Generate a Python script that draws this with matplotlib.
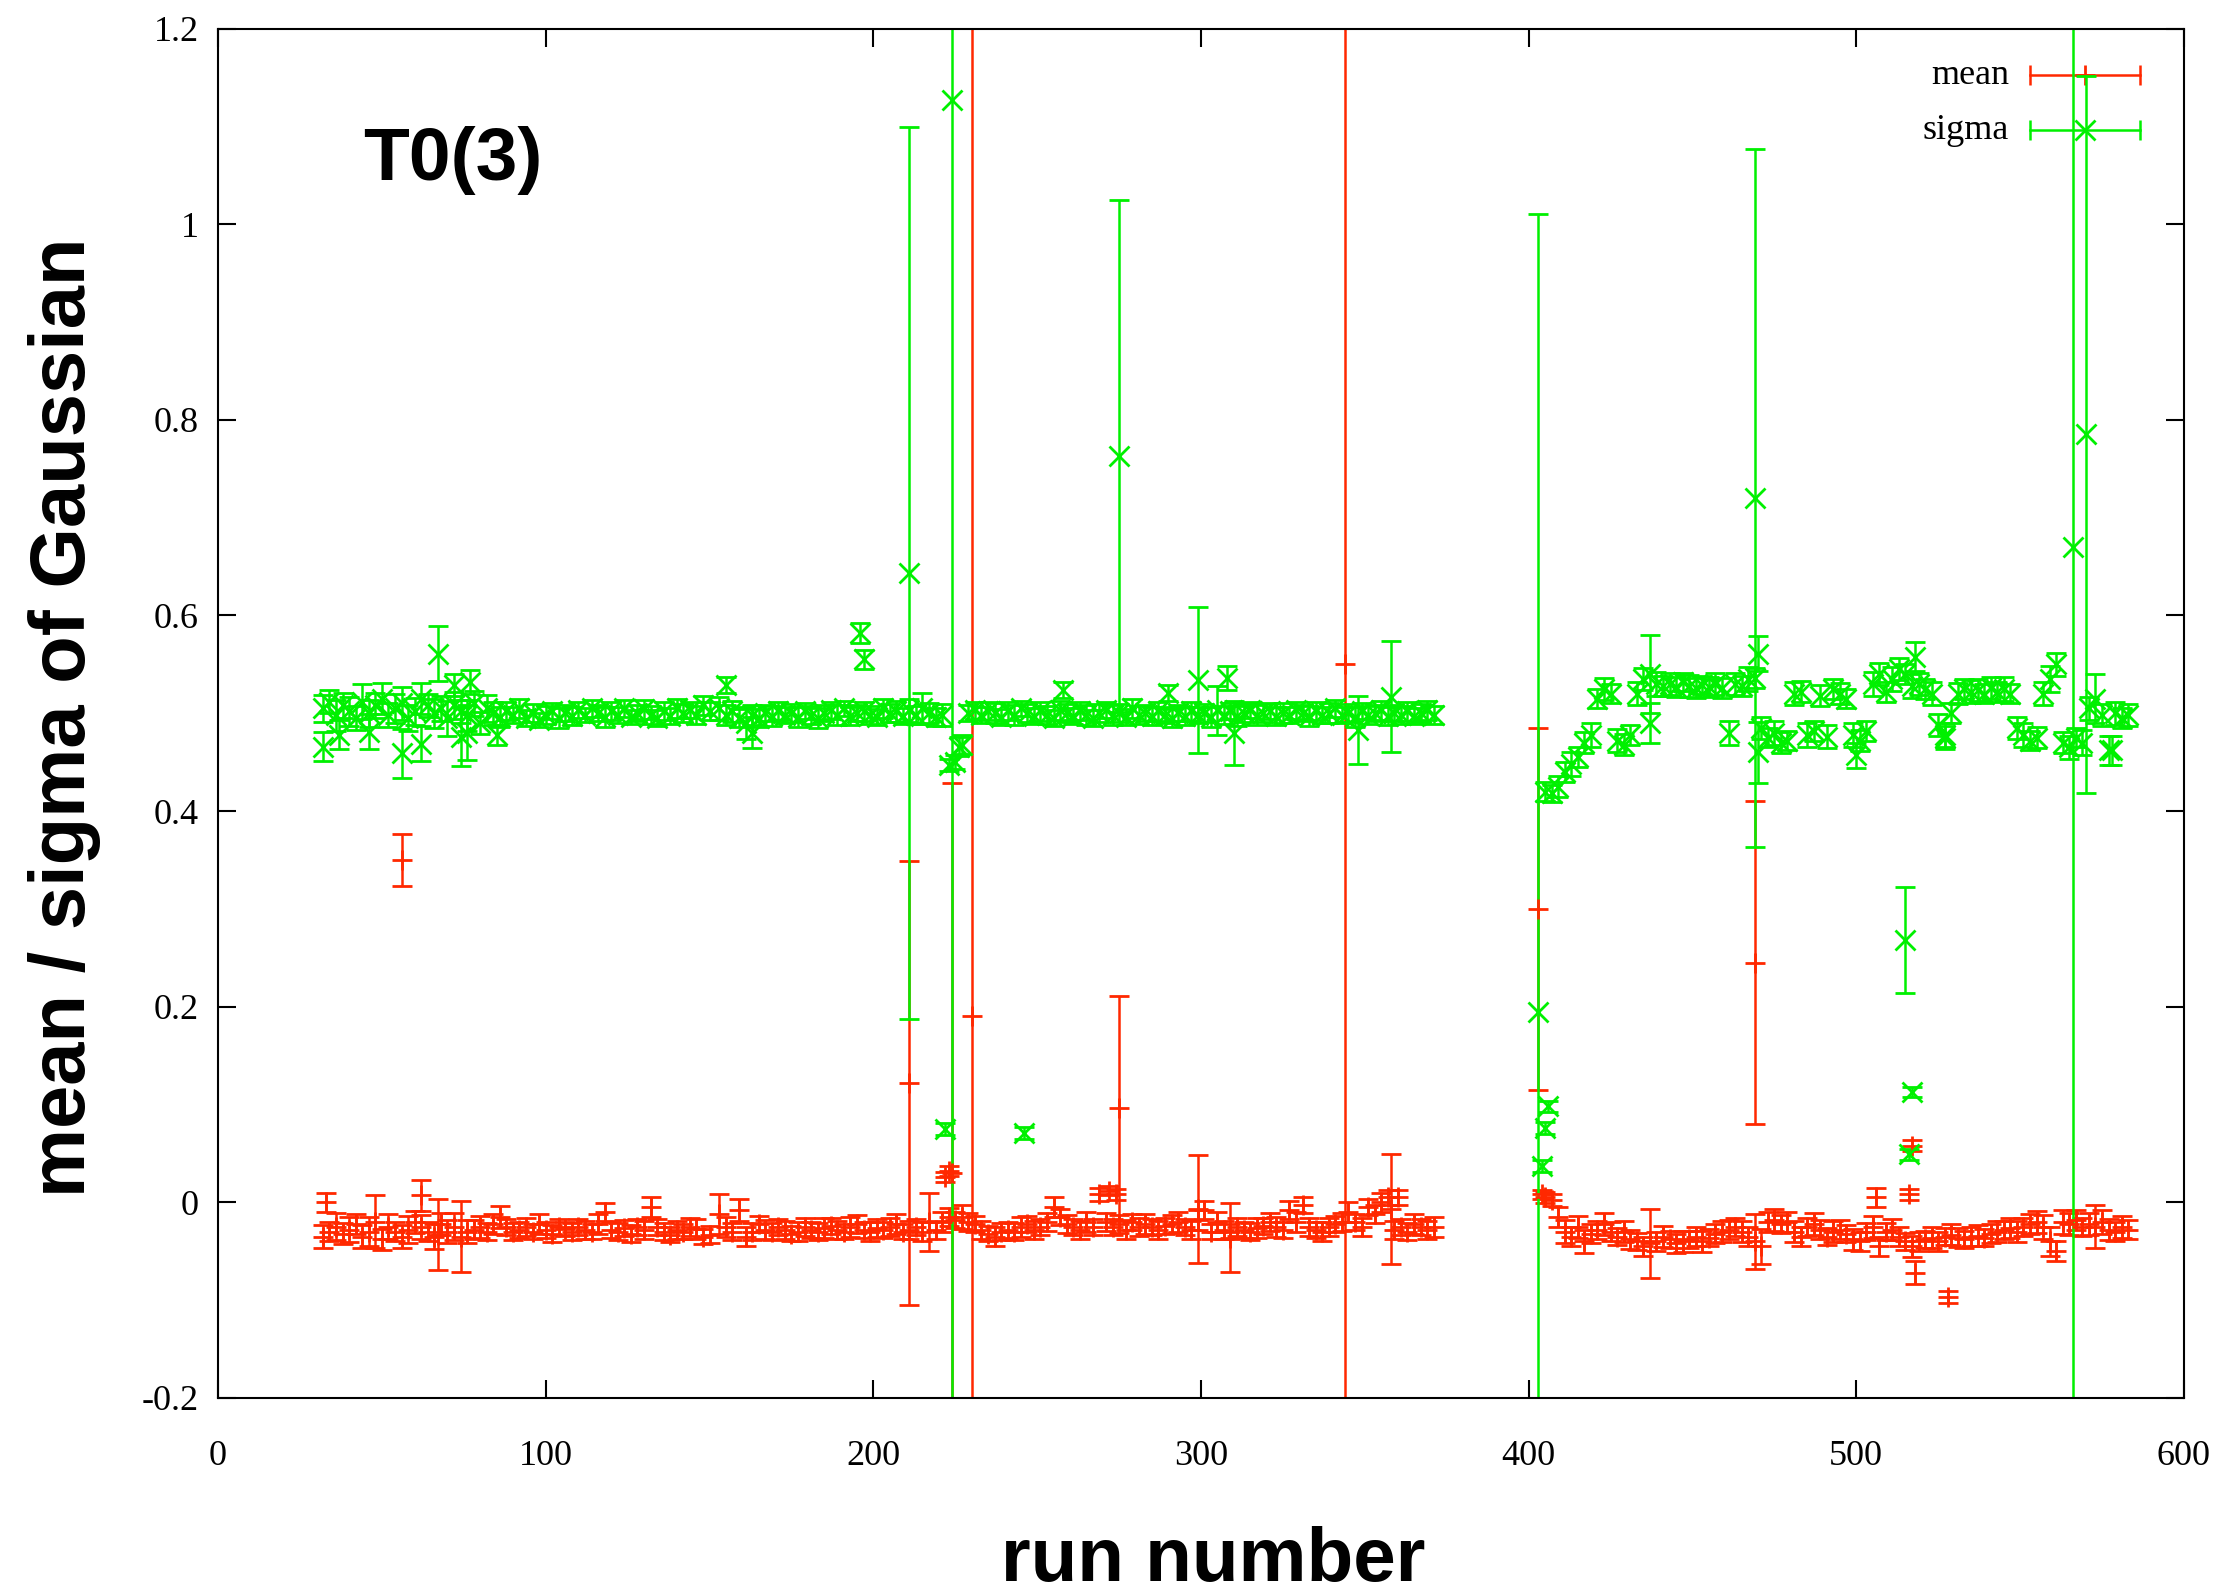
import numpy as np
import matplotlib
matplotlib.use('Agg')
import matplotlib.pyplot as plt
from matplotlib.ticker import FuncFormatter, MultipleLocator

# run numbers, first block
runs_a = [32, 34, 36, 38, 40, 42, 44, 46, 48, 50,
          52, 54, 56, 58, 60, 62, 64, 66, 68, 70,
          72, 74, 76, 78, 80, 82, 84, 86, 88, 90,
          92, 94, 96, 98, 100, 102, 104, 106, 108, 110,
          112, 114, 116, 118, 120, 122, 124, 126, 128, 130,
          132, 134, 136, 138, 140, 142, 144, 146, 148, 150]
sigma_a = [0.505, 0.512, 0.498, 0.508, 0.502, 0.495, 0.512, 0.500, 0.508, 0.515,
           0.498, 0.505, 0.510, 0.495, 0.502, 0.515, 0.508, 0.500, 0.505, 0.495,
           0.508, 0.502, 0.498, 0.510, 0.490, 0.505, 0.500, 0.496, 0.502, 0.498,
           0.505, 0.495, 0.500, 0.493, 0.498, 0.502, 0.495, 0.500, 0.497, 0.503,
           0.498, 0.505, 0.500, 0.496, 0.502, 0.498, 0.505, 0.496, 0.500, 0.504,
           0.498, 0.495, 0.502, 0.497, 0.505, 0.500, 0.503, 0.498, 0.508, 0.502]
sigma_err_a = [0.014, 0.012, 0.016, 0.013, 0.015, 0.012, 0.018, 0.014, 0.013, 0.016,
               0.012, 0.015, 0.017, 0.013, 0.014, 0.016, 0.012, 0.015, 0.013, 0.018,
               0.014, 0.012, 0.016, 0.013, 0.011, 0.014, 0.012, 0.010, 0.009, 0.008,
               0.010, 0.008, 0.009, 0.007, 0.009, 0.008, 0.010, 0.008, 0.009, 0.008,
               0.007, 0.009, 0.008, 0.010, 0.009, 0.008, 0.009, 0.007, 0.008, 0.010,
               0.009, 0.008, 0.009, 0.008, 0.010, 0.009, 0.008, 0.009, 0.010, 0.009]
mean_a = [-0.035, -0.030, -0.025, -0.032, -0.028, -0.022, -0.035, -0.030, -0.020, -0.038,
          -0.025, -0.030, -0.035, -0.028, -0.020, -0.025, -0.030, -0.035, -0.022, -0.030,
          -0.025, -0.035, -0.030, -0.028, -0.025, -0.030, -0.022, -0.015, -0.025, -0.030,
          -0.028, -0.025, -0.030, -0.022, -0.028, -0.032, -0.025, -0.027, -0.030, -0.025,
          -0.028, -0.030, -0.022, -0.010, -0.028, -0.030, -0.026, -0.032, -0.025, -0.028,
          -0.005, -0.025, -0.030, -0.033, -0.028, -0.030, -0.025, -0.027, -0.035, -0.033]
mean_err_a = [0.012, 0.010, 0.014, 0.011, 0.013, 0.010, 0.012, 0.015, 0.027, 0.011,
              0.013, 0.010, 0.012, 0.014, 0.011, 0.012, 0.010, 0.013, 0.011, 0.012,
              0.014, 0.036, 0.012, 0.010, 0.011, 0.009, 0.010, 0.011, 0.008, 0.009,
              0.008, 0.009, 0.008, 0.010, 0.008, 0.009, 0.008, 0.007, 0.009, 0.008,
              0.009, 0.008, 0.010, 0.009, 0.008, 0.009, 0.008, 0.009, 0.008, 0.009,
              0.010, 0.008, 0.009, 0.008, 0.009, 0.008, 0.009, 0.010, 0.008, 0.009]

# second block
runs_b = [153, 155, 157, 159, 161, 163, 165, 167, 169, 171,
          173, 175, 177, 179, 181, 183, 185, 187, 189, 191,
          193, 195, 197, 199, 201, 203, 205, 207, 209, 211,
          213, 215, 217, 219, 221, 223, 225, 227, 229, 231,
          233, 235, 237, 239, 241, 243, 245, 247, 249, 251,
          253, 255, 257, 259, 261, 263, 265, 267, 269, 271,
          273, 275, 277, 279, 281, 283, 285, 287, 289, 291,
          293, 295, 297, 299, 301, 303, 305, 307, 309, 311,
          313, 315, 317, 319, 321, 323, 325, 327, 329, 331,
          333, 335, 337, 339, 341, 343, 345, 347, 349, 351,
          353, 355, 357, 359, 361, 363, 365, 367, 369, 371]
sigma_b = [0.505, 0.498, 0.502, 0.495, 0.490, 0.498, 0.495, 0.500, 0.497, 0.502,
           0.498, 0.500, 0.496, 0.502, 0.498, 0.495, 0.500, 0.503, 0.498, 0.505,
           0.497, 0.500, 0.502, 0.498, 0.496, 0.505, 0.500, 0.502, 0.497, 0.503,
           0.498, 0.505, 0.500, 0.496, 0.498, 0.447, 0.450, 0.468, 0.500, 0.503,
           0.498, 0.502, 0.500, 0.496, 0.502, 0.498, 0.505, 0.500, 0.497, 0.502,
           0.498, 0.495, 0.503, 0.500, 0.497, 0.502, 0.498, 0.495, 0.500, 0.503,
           0.498, 0.500, 0.496, 0.505, 0.498, 0.500, 0.497, 0.502, 0.498, 0.495,
           0.500, 0.497, 0.502, 0.498, 0.500, 0.496, 0.503, 0.498, 0.502, 0.497,
           0.500, 0.503, 0.498, 0.500, 0.502, 0.497, 0.500, 0.498, 0.503, 0.500,
           0.497, 0.502, 0.498, 0.500, 0.505, 0.498, 0.500, 0.496, 0.502, 0.498,
           0.500, 0.503, 0.497, 0.500, 0.498, 0.502, 0.497, 0.500, 0.503, 0.498]
sigma_err_b = [0.012, 0.010, 0.011, 0.009, 0.016, 0.010, 0.009, 0.008, 0.010, 0.009,
               0.008, 0.009, 0.010, 0.008, 0.009, 0.010, 0.008, 0.009, 0.010, 0.008,
               0.009, 0.008, 0.010, 0.009, 0.008, 0.010, 0.009, 0.011, 0.008, 0.012,
               0.009, 0.016, 0.010, 0.009, 0.011, 0.006, 0.007, 0.010, 0.008, 0.009,
               0.008, 0.009, 0.010, 0.008, 0.009, 0.010, 0.008, 0.009, 0.008, 0.010,
               0.009, 0.008, 0.010, 0.009, 0.008, 0.009, 0.010, 0.008, 0.009, 0.008,
               0.010, 0.009, 0.008, 0.010, 0.009, 0.008, 0.009, 0.010, 0.008, 0.009,
               0.008, 0.009, 0.010, 0.008, 0.009, 0.010, 0.025, 0.009, 0.008, 0.010,
               0.009, 0.008, 0.010, 0.009, 0.008, 0.009, 0.010, 0.008, 0.009, 0.008,
               0.010, 0.009, 0.008, 0.010, 0.009, 0.008, 0.009, 0.010, 0.008, 0.009,
               0.008, 0.010, 0.009, 0.008, 0.009, 0.010, 0.008, 0.009, 0.010, 0.009]
mean_b = [-0.012, -0.025, -0.030, -0.008, -0.035, -0.030, -0.022, -0.028, -0.030, -0.025,
          -0.028, -0.032, -0.030, -0.025, -0.028, -0.030, -0.026, -0.024, -0.028, -0.030,
          -0.025, -0.022, -0.028, -0.030, -0.026, -0.028, -0.025, -0.022, -0.030, -0.028,
          -0.025, -0.030, -0.020, -0.028, -0.020, -0.015, -0.018, -0.015, -0.020, -0.022,
          -0.028, -0.032, -0.035, -0.030, -0.028, -0.030, -0.025, -0.022, -0.028, -0.025,
          -0.020, -0.005, -0.015, -0.022, -0.025, -0.028, -0.020, -0.025, 0.008, -0.020,
          -0.025, -0.022, -0.028, -0.020, -0.025, -0.022, -0.025, -0.028, -0.024, -0.022,
          -0.020, -0.025, -0.028, -0.018, -0.008, -0.030, -0.020, -0.028, -0.030, -0.025,
          -0.028, -0.030, -0.026, -0.024, -0.020, -0.025, -0.028, -0.008, -0.020, -0.003,
          -0.025, -0.028, -0.030, -0.025, -0.022, -0.020, -0.010, -0.020, -0.025, -0.005,
          -0.012, 0.000, 0.005, -0.028, -0.025, -0.030, -0.022, -0.025, -0.028, -0.025]
mean_err_b = [0.020, 0.010, 0.009, 0.011, 0.010, 0.009, 0.008, 0.010, 0.009, 0.008,
              0.009, 0.008, 0.010, 0.009, 0.008, 0.009, 0.010, 0.008, 0.009, 0.008,
              0.010, 0.009, 0.008, 0.010, 0.009, 0.008, 0.009, 0.010, 0.008, 0.009,
              0.008, 0.010, 0.030, 0.009, 0.010, 0.009, 0.008, 0.012, 0.009, 0.008,
              0.009, 0.008, 0.010, 0.009, 0.008, 0.009, 0.010, 0.008, 0.009, 0.008,
              0.009, 0.010, 0.008, 0.009, 0.008, 0.009, 0.010, 0.008, 0.007, 0.009,
              0.008, 0.009, 0.010, 0.008, 0.009, 0.010, 0.008, 0.009, 0.008, 0.009,
              0.010, 0.008, 0.009, 0.010, 0.009, 0.008, 0.010, 0.009, 0.008, 0.009,
              0.008, 0.009, 0.010, 0.008, 0.009, 0.010, 0.008, 0.009, 0.010, 0.008,
              0.009, 0.008, 0.010, 0.009, 0.008, 0.009, 0.010, 0.008, 0.009, 0.008,
              0.009, 0.010, 0.008, 0.009, 0.008, 0.009, 0.010, 0.008, 0.009, 0.010]

# third block
runs_c = [405, 407, 409, 411, 413, 415, 417, 419, 421, 423,
          425, 427, 429, 431, 433, 435, 437, 439, 441, 443,
          445, 447, 449, 451, 453, 455, 457, 459, 461, 463,
          465, 467, 469, 471, 473, 475, 477, 479, 481, 483,
          485, 487, 489, 491, 493, 495, 497, 499, 501, 503,
          505, 507, 509, 511, 513, 515, 517, 519, 521, 523,
          525, 527, 529, 531, 533, 535, 537, 539, 541, 543,
          545, 547, 549, 551, 553, 555, 557, 559, 561, 563,
          565, 567, 569, 571, 573, 575, 577, 579, 581, 583]
sigma_c = [0.420, 0.418, 0.425, 0.440, 0.448, 0.455, 0.470, 0.478, 0.515, 0.525,
           0.520, 0.472, 0.468, 0.478, 0.520, 0.535, 0.540, 0.530, 0.528, 0.530,
           0.527, 0.532, 0.528, 0.526, 0.529, 0.527, 0.530, 0.526, 0.480, 0.530,
           0.528, 0.535, 0.536, 0.485, 0.475, 0.480, 0.470, 0.472, 0.520, 0.522,
           0.478, 0.482, 0.518, 0.476, 0.525, 0.520, 0.515, 0.478, 0.472, 0.482,
           0.530, 0.540, 0.522, 0.535, 0.545, 0.540, 0.528, 0.530, 0.525, 0.520,
           0.488, 0.478, 0.500, 0.520, 0.525, 0.522, 0.524, 0.520, 0.526, 0.522,
           0.525, 0.520, 0.485, 0.478, 0.472, 0.475, 0.520, 0.535, 0.550, 0.470,
           0.465, 0.475, 0.470, 0.505, 0.515, 0.498, 0.462, 0.500, 0.495, 0.498]
sigma_err_c = [0.010, 0.009, 0.011, 0.010, 0.012, 0.010, 0.011, 0.012, 0.010, 0.011,
               0.010, 0.012, 0.011, 0.010, 0.012, 0.011, 0.040, 0.012, 0.010, 0.011,
               0.010, 0.009, 0.011, 0.010, 0.009, 0.010, 0.011, 0.010, 0.012, 0.011,
               0.010, 0.012, 0.010, 0.011, 0.010, 0.012, 0.011, 0.010, 0.012, 0.011,
               0.012, 0.010, 0.011, 0.012, 0.010, 0.011, 0.010, 0.012, 0.011, 0.010,
               0.012, 0.011, 0.010, 0.012, 0.011, 0.010, 0.012, 0.011, 0.010, 0.012,
               0.011, 0.012, 0.010, 0.011, 0.010, 0.012, 0.011, 0.010, 0.011, 0.010,
               0.012, 0.010, 0.011, 0.012, 0.010, 0.011, 0.012, 0.013, 0.012, 0.011,
               0.012, 0.010, 0.013, 0.012, 0.025, 0.011, 0.015, 0.012, 0.010, 0.011]
mean_c = [0.005, 0.002, -0.015, -0.030, -0.035, -0.025, -0.040, -0.032, -0.028, -0.022,
          -0.030, -0.035, -0.030, -0.038, -0.040, -0.045, -0.042, -0.040, -0.035, -0.038,
          -0.042, -0.040, -0.038, -0.035, -0.040, -0.036, -0.032, -0.030, -0.028, -0.025,
          -0.030, -0.035, -0.040, -0.045, -0.020, -0.018, -0.022, -0.020, -0.030, -0.035,
          -0.025, -0.022, -0.028, -0.035, -0.030, -0.028, -0.032, -0.038, -0.040, -0.030,
          -0.025, -0.045, -0.030, -0.028, -0.035, -0.040, -0.045, -0.040, -0.038, -0.036,
          -0.040, -0.035, -0.033, -0.036, -0.038, -0.035, -0.034, -0.036, -0.032, -0.030,
          -0.028, -0.026, -0.030, -0.025, -0.022, -0.020, -0.025, -0.040, -0.050, -0.020,
          -0.022, -0.018, -0.025, -0.022, -0.025, -0.020, -0.028, -0.030, -0.025, -0.028]
mean_err_c = [0.006, 0.006, 0.010, 0.012, 0.010, 0.011, 0.012, 0.010, 0.009, 0.011,
              0.010, 0.009, 0.011, 0.010, 0.009, 0.010, 0.035, 0.010, 0.011, 0.009,
              0.010, 0.011, 0.009, 0.010, 0.011, 0.009, 0.010, 0.011, 0.010, 0.009,
              0.011, 0.010, 0.028, 0.018, 0.010, 0.011, 0.009, 0.010, 0.011, 0.010,
              0.009, 0.011, 0.010, 0.009, 0.011, 0.010, 0.009, 0.011, 0.010, 0.009,
              0.011, 0.010, 0.009, 0.011, 0.010, 0.009, 0.011, 0.010, 0.009, 0.011,
              0.010, 0.009, 0.011, 0.010, 0.009, 0.010, 0.011, 0.009, 0.010, 0.011,
              0.009, 0.010, 0.011, 0.009, 0.010, 0.011, 0.012, 0.015, 0.010, 0.012,
              0.011, 0.010, 0.009, 0.011, 0.022, 0.012, 0.011, 0.010, 0.011, 0.010]

# runs where the fit went off the band
sigma_out_runs = [32, 37, 46, 56, 62, 67, 72, 77, 74, 76,
                  85, 155, 163, 196, 197, 211, 222, 224, 226, 246,
                  258, 275, 290, 299, 308, 310, 348, 358, 403, 404,
                  405, 406, 437, 470, 470, 469, 500, 515, 516, 517,
                  518, 566, 570, 527, 578]
sigma_out = [0.466, 0.478, 0.481, 0.459, 0.469, 0.561, 0.529, 0.532, 0.476, 0.480,
             0.478, 0.529, 0.480, 0.582, 0.555, 0.643, 0.075, 1.127, 0.466, 0.071,
             0.524, 0.763, 0.521, 0.534, 0.536, 0.480, 0.483, 0.517, 0.195, 0.037,
             0.076, 0.098, 0.490, 0.561, 0.460, 0.720, 0.457, 0.268, 0.049, 0.113,
             0.558, 0.670, 0.785, 0.475, 0.462]
sigma_out_err = [0.015, 0.015, 0.018, 0.025, 0.018, 0.028, 0.011, 0.012, 0.030, 0.028,
                 0.010, 0.008, 0.016, 0.010, 0.010, 0.456, 0.006, 1.500, 0.010, 0.006,
                 0.008, 0.262, 0.008, 0.075, 0.012, 0.033, 0.035, 0.057, 0.815, 0.006,
                 0.006, 0.006, 0.020, 0.018, 0.031, 0.357, 0.013, 0.054, 0.006, 0.005,
                 0.015, 1.000, 0.367, 0.012, 0.015]

mean_out_runs = [33, 56, 62, 67, 211, 222, 223, 224, 230, 272,
                 274, 275, 299, 309, 344, 358, 360, 403, 404, 469,
                 506, 516, 517, 518, 528]
mean_out = [0.000, 0.350, 0.007, -0.033, 0.122, 0.026, 0.032, 0.030, 0.190, 0.012,
            0.008, 0.096, -0.007, -0.036, 0.550, -0.007, 0.005, 0.300, 0.008, 0.245,
            0.005, 0.008, 0.058, -0.072, -0.097]
mean_out_err = [0.010, 0.027, 0.016, 0.036, 0.227, 0.005, 0.005, 0.399, 1.200, 0.005,
                0.006, 0.115, 0.055, 0.035, 1.000, 0.056, 0.008, 0.185, 0.005, 0.165,
                0.010, 0.006, 0.006, 0.012, 0.006]

RED = '#ff2800'
GREEN = '#00f000'
SANS = 'Liberation Sans'


def fmt_tick(v, pos):
    return '%g' % round(v, 6)


def draw_key(ax, y, label, color, marker):
    # gnuplot-style key sample: horizontal bar with end caps, point in the middle
    x0, x1, xm = 0.9217, 0.9776, 0.9497
    ax.plot([x0, x1], [y, y], color=color, lw=1.8, transform=ax.transAxes, zorder=1)
    ax.plot([x0, x1], [y, y], ls='none', marker='|', ms=14, mew=1.8,
            color=color, transform=ax.transAxes, zorder=1)
    ax.plot([xm], [y], ls='none', marker=marker, ms=15, mew=2.0,
            color=color, transform=ax.transAxes, zorder=1)
    ax.text(0.911, y - 0.0066, label, transform=ax.transAxes,
            ha='right', va='baseline', fontsize=26)


def main():
    plt.rcParams['font.family'] = 'Liberation Serif'
    fig = plt.figure(figsize=(22.34, 15.96), dpi=100)
    ax = fig.add_axes([0.0976, 0.1241, 0.8800, 0.8580])

    mean_runs = np.concatenate([runs_a, runs_b, runs_c, mean_out_runs])
    mean_vals = np.concatenate([mean_a, mean_b, mean_c, mean_out])
    mean_errs = np.concatenate([mean_err_a, mean_err_b, mean_err_c, mean_out_err])
    sigma_runs = np.concatenate([runs_a, runs_b, runs_c, sigma_out_runs])
    sigma_vals = np.concatenate([sigma_a, sigma_b, sigma_c, sigma_out])
    sigma_errs = np.concatenate([sigma_err_a, sigma_err_b, sigma_err_c, sigma_out_err])

    style = dict(ms=15, mew=2.0, elinewidth=1.8, capsize=7.5, capthick=2.0)
    ax.errorbar(mean_runs, mean_vals, yerr=mean_errs, fmt='+', color=RED, **style)
    ax.errorbar(sigma_runs, sigma_vals, yerr=sigma_errs, fmt='x', color=GREEN, **style)

    ax.set_xlim(0, 600)
    ax.set_ylim(-0.2, 1.2)
    ax.xaxis.set_major_locator(MultipleLocator(100))
    ax.yaxis.set_major_locator(MultipleLocator(0.2))
    ax.xaxis.set_major_formatter(FuncFormatter(fmt_tick))
    ax.yaxis.set_major_formatter(FuncFormatter(fmt_tick))
    ax.tick_params(direction='in', length=13, width=1.5, top=True, right=True,
                   labelsize=26)
    ax.tick_params(axis='x', pad=30)
    ax.tick_params(axis='y', pad=14)
    for sp in ax.spines.values():
        sp.set_linewidth(1.5)

    ax.set_xlabel('run number', family=SANS, weight='bold', fontsize=55)
    ax.xaxis.set_label_coords(0.506, -0.134)
    ax.xaxis.label.set_va('baseline')
    ax.set_ylabel('mean / sigma of Gaussian', family=SANS, weight='bold', fontsize=56)
    ax.yaxis.set_label_coords(-0.0677, 0.497)
    ax.yaxis.label.set_va('baseline')

    ax.text(0.0738, 0.8897, 'T0(3)', transform=ax.transAxes, ha='left',
            va='baseline', family=SANS, weight='bold', fontsize=54)

    draw_key(ax, 0.9664, 'mean', RED, '+')
    draw_key(ax, 0.9262, 'sigma', GREEN, 'x')

    fig.savefig('out.png', dpi=100)


if __name__ == '__main__':
    main()
